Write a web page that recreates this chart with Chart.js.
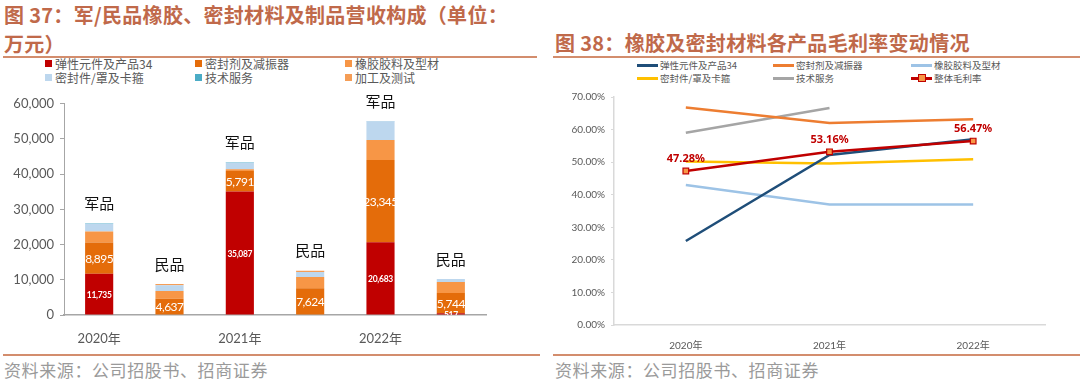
<!DOCTYPE html>
<html>
<head>
<meta charset="utf-8">
<script src="https://cdn.jsdelivr.net/npm/chart.js@4.4.1/dist/chart.umd.min.js"></script>
<style>
  body { margin: 0; background: #fff; }
  #page { position: relative; width: 1080px; height: 389px; overflow: hidden; font-family: Lato, "Noto Sans CJK SC", sans-serif; }
  .title { position: absolute; font-family: "Noto Sans CJK SC", sans-serif; font-weight: bold; font-size: 20px; line-height: 29px; color: #c0694a; white-space: nowrap; letter-spacing: 0.3px; }
  .rule { position: absolute; height: 2px; background: #d38d6d; }
  .src { position: absolute; font-family: "Noto Sans CJK SC", sans-serif; font-size: 17px; line-height: 20px; color: #9a9a9a; letter-spacing: 0.6px; white-space: nowrap; }
  .lg { position: absolute; white-space: nowrap; color: #595959; font-family: "Noto Sans CJK SC", sans-serif; }
  .lg i { position: absolute; display: block; }
  canvas { position: absolute; }
</style>
</head>
<body>
<div id="page">
  <div class="title" style="left:4px;top:0px">图 37：军/民品橡胶、密封材料及制品营收构成（单位：<br>万元）</div>
  <div class="rule" style="left:3px;top:56px;width:534px"></div>
  <div class="title" style="left:555px;top:28px">图 38：橡胶及密封材料各产品毛利率变动情况</div>
  <div class="rule" style="left:553px;top:56px;width:527px"></div>
  <div id="legendLeft"></div>
  <div id="legendRight"></div>
  <canvas id="revenueChart" width="500" height="255" style="left:0px;top:90px"></canvas>
  <canvas id="marginChart" width="510" height="265" style="left:550px;top:85px"></canvas>
  <div class="rule" style="left:3px;top:354px;width:537px"></div>
  <div class="rule" style="left:553px;top:354px;width:527px"></div>
  <div class="src" style="left:4px;top:360px">资料来源：公司招股书、招商证券</div>
  <div class="src" style="left:555px;top:360px">资料来源：公司招股书、招商证券</div>
</div>
<script>
//revenue chart data (万元)
let barLabels = ["2020年", "", "2021年", "", "2022年", ""];
let groupLabels = ["军品", "民品", "军品", "民品", "军品", "民品"];
let barNames = ["弹性元件及产品34", "密封剂及减振器", "橡胶胶料及型材", "密封件/罩及卡箍", "技术服务", "加工及测试"];
let barColors = ["#c00000", "#e46c0a", "#f79646", "#bdd7ee", "#4bacc6", "#f59d56"];
let elasticRevenue = [11735, 0, 35087, 0, 20683, 517];
let sealantRevenue = [8895, 4637, 5791, 7624, 23345, 5744];
let rubberRevenue = [3100, 2200, 550, 3200, 5700, 3100];
let sealPartRevenue = [2200, 1600, 1800, 1400, 5300, 900];
let techRevenue = [120, 0, 200, 0, 80, 0];
let processRevenue = [0, 350, 0, 350, 0, 0];
let barSeries = [elasticRevenue, sealantRevenue, rubberRevenue, sealPartRevenue, techRevenue, processRevenue];

//margin chart data (%)
let yearLabels = ["2020年", "2021年", "2022年"];
let lineNames = ["弹性元件及产品34", "密封剂及减振器", "橡胶胶料及型材", "密封件/罩及卡箍", "技术服务", "整体毛利率"];
let lineColors = ["#1f4e79", "#ed7d31", "#9dc3e6", "#ffc000", "#a5a5a5", "#c00000"];
let elasticMargin = [25.8, 52.2, 57.0];
let sealantMargin = [66.8, 62.0, 63.2];
let rubberMargin = [43.0, 37.0, 37.0];
let sealPartMargin = [50.2, 49.6, 50.9];
let techMargin = [59.0, 66.6, null];
let totalMargin = [47.28, 53.16, 56.47];
let lineSeries = [elasticMargin, sealantMargin, rubberMargin, sealPartMargin, techMargin, totalMargin];

//legends
let legendLeft = document.getElementById("legendLeft");
barNames.forEach(function(name, k) {
    let col = k % 3, row = Math.floor(k / 3);
    let d = document.createElement("div");
    d.className = "lg";
    d.style.cssText = "left:" + [45, 195, 345][col] + "px;top:" + (56 + row * 14) + "px;font-size:12px;line-height:16px;padding-left:10px";
    d.innerHTML = '<i style="left:0;top:4px;width:7px;height:7px;background:' + barColors[k] + '"></i>' + name;
    legendLeft.appendChild(d);
});
let legendRight = document.getElementById("legendRight");
lineNames.forEach(function(name, k) {
    let col = k % 3, row = Math.floor(k / 3);
    let d = document.createElement("div");
    d.className = "lg";
    d.style.cssText = "left:" + [637, 773, 911][col] + "px;top:" + (58 + row * 13) + "px;font-size:9.5px;line-height:14px;padding-left:23px";
    let html = '<i style="left:0;top:6px;width:21px;height:3px;background:' + lineColors[k] + '"></i>';
    if (k === 5) {
        html += '<i style="left:7px;top:3px;width:6px;height:6px;background:#f79646;border:1.5px solid #c00000"></i>';
    }
    d.innerHTML = html + name;
    legendRight.appendChild(d);
});

Chart.defaults.font.family = 'Lato, "Noto Sans CJK SC", sans-serif';
Chart.defaults.color = "#595959";

//bar labels + 军品/民品 captions
let barLabelPlugin = {
    id: "barLabels",
    afterDatasetsDraw: function(chart) {
        let ctx = chart.ctx;
        let area = chart.chartArea;
        let yScale = chart.scales.y;
        ctx.save();
        ctx.beginPath();
        ctx.rect(area.left, area.top - 40, area.right - area.left, area.bottom - area.top + 40);
        ctx.clip();
        ctx.textAlign = "center";
        ctx.textBaseline = "middle";
        ctx.fillStyle = "#fff";
        [0, 1].forEach(function(di) {
            chart.getDatasetMeta(di).data.forEach(function(el, i) {
                let v = barSeries[di][i];
                if (!v) return;
                if (di === 0) {
                    ctx.font = "bold 8.5px Lato, sans-serif";
                    ctx.letterSpacing = "-0.3px";
                } else {
                    ctx.font = "12px Lato, sans-serif";
                    ctx.letterSpacing = "-0.5px";
                }
                ctx.fillText(v.toLocaleString("en-US"), el.x, (el.y + el.base) / 2 + 1);
            });
        });
        ctx.restore();
        ctx.save();
        ctx.textAlign = "center";
        ctx.textBaseline = "middle";
        ctx.fillStyle = "#111";
        ctx.font = '15px "Noto Sans CJK SC", sans-serif';
        chart.getDatasetMeta(0).data.forEach(function(el, i) {
            let total = 0;
            barSeries.forEach(function(s) { total += s[i]; });
            ctx.fillText(groupLabels[i], el.x, yScale.getPixelForValue(total) - 20);
        });
        ctx.restore();
    },
};

new Chart(document.getElementById("revenueChart").getContext("2d"), {
    type: "bar",
    data: {
        labels: barLabels,
        datasets: barNames.map(function(name, k) {
            return {
                label: name,
                data: barSeries[k],
                backgroundColor: barColors[k],
                barPercentage: 0.4,
                categoryPercentage: 1,
            };
        }),
    },
    options: {
        responsive: false,
        animation: false,
        layout: { padding: { top: 8, right: 14 } },
        plugins: { legend: { display: false }, tooltip: { enabled: false } },
        scales: {
            x: {
                stacked: true,
                grid: { display: false },
                border: { color: "#a6a6a6", width: 1.5 },
                ticks: { font: { size: 13 }, padding: 8, maxRotation: 0, autoSkip: false },
                afterFit: function(s) { s.height = 30; },
            },
            y: {
                stacked: true,
                min: 0,
                max: 60000,
                ticks: {
                    stepSize: 10000,
                    font: { size: 13 },
                    padding: 6,
                    callback: function(v) { return v.toLocaleString("en-US"); },
                },
                grid: { drawOnChartArea: false, tickLength: 4, color: "#a6a6a6" },
                border: { color: "#a6a6a6" },
                afterFit: function(s) { s.width = 64; },
            },
        },
    },
    plugins: [barLabelPlugin],
});

//overall margin labels
let marginLabelPlugin = {
    id: "marginLabels",
    afterDatasetsDraw: function(chart) {
        let ctx = chart.ctx;
        ctx.save();
        ctx.textAlign = "center";
        ctx.textBaseline = "middle";
        ctx.fillStyle = "#c00000";
        ctx.font = 'bold 11px "Noto Sans", sans-serif';
        chart.getDatasetMeta(5).data.forEach(function(el, i) {
            ctx.fillText(totalMargin[i].toFixed(2) + "%", el.x, el.y - 12);
        });
        ctx.restore();
    },
};

new Chart(document.getElementById("marginChart").getContext("2d"), {
    type: "line",
    data: {
        labels: yearLabels,
        datasets: lineNames.map(function(name, k) {
            let last = k === 5;
            return {
                label: name,
                data: lineSeries[k],
                borderColor: lineColors[k],
                borderWidth: 2.5,
                tension: 0,
                pointRadius: last ? 4 : 0,
                pointStyle: "rect",
                pointBackgroundColor: "#f79646",
                pointBorderColor: "#c00000",
                pointBorderWidth: 1.2,
                spanGaps: false,
                order: last ? 0 : 1,
            };
        }),
    },
    options: {
        responsive: false,
        animation: false,
        layout: { padding: { top: 7, right: 15 } },
        plugins: { legend: { display: false }, tooltip: { enabled: false } },
        scales: {
            x: {
                offset: true,
                grid: { display: false },
                border: { color: "#d9d9d9", width: 1.5 },
                ticks: { font: { size: 10 }, padding: 7, maxRotation: 0 },
                afterFit: function(s) { s.height = 25; },
            },
            y: {
                min: 0,
                max: 70,
                ticks: {
                    stepSize: 10,
                    font: { size: 10 },
                    padding: 6,
                    callback: function(v) { return v.toFixed(2) + "%"; },
                },
                grid: { drawOnChartArea: false, tickLength: 3, color: "#d9d9d9" },
                border: { color: "#d9d9d9", width: 1.5 },
                afterFit: function(s) { s.width = 64; },
            },
        },
    },
    plugins: [marginLabelPlugin],
});
</script>
</body>
</html>
